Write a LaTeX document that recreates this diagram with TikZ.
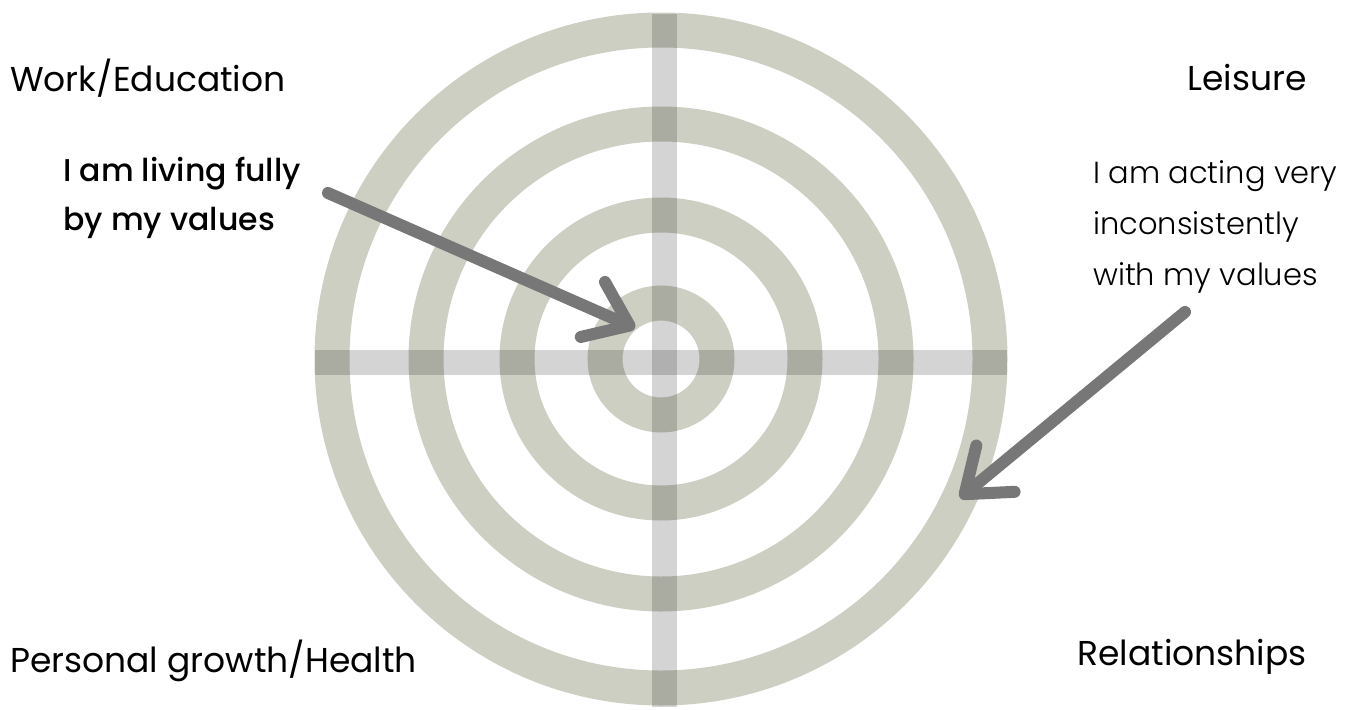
\documentclass[tikz,border=0pt]{standalone}
\usepackage{fontspec}
\setmainfont{Poppins}
\newfontfamily\lightfont{Poppins Light}
\newfontfamily\mediumfont{Poppins Medium}
\usepackage{xcolor}
\usetikzlibrary{arrows.meta}
\definecolor{ringgray}{HTML}{CDCFC3}
\definecolor{arrowgray}{HTML}{777777}

\begin{document}
\begin{tikzpicture}
   [x=1pt, y=-1pt,
   ring/.style={draw=ringgray, line width=35pt},
   bar/.style={draw=black, draw opacity=0.17, line width=25pt},
   pointer/.style={draw=arrowgray, line width=12pt, line cap=round, line join=round,
     -{Straight Barb[length=40pt, width=60pt, line cap=round, line join=round]}},
   heading/.style={inner sep=0pt, font=\fontsize{34.5}{40}\selectfont},
   remark/.style={inner sep=0pt, align=left, font=\mediumfont\fontsize{31.5}{49}\selectfont},
   lightremark/.style={inner sep=0pt, align=left, font=\lightfont\fontsize{30.5}{51}\selectfont},
   ]
 \useasboundingbox (0,0) rectangle (1356,709);
 \coordinate (ctr) at (661,359);
 \foreach \r in {56,144,235,329}
   \draw[ring] (ctr) circle[radius=\r pt];
 %\draw[bar] (664,14) -- (664,707);
 \coordinate (vtop) at (664,14);
 \coordinate (vbot) at (664,707);
 \coordinate (hleft) at (315,362.5);
 \coordinate (hright) at (1007,362.5);
 \draw[bar] (vtop) -- (vbot);
 \draw[bar] (hleft) -- (hright);

 \node at (10,92) [heading, anchor=base west] (work) {Work/Education};
 \node at (1307,90) [heading, anchor=base east] (leisure) {Leisure};
 \node at (10,672) [heading, anchor=base west] (growth) {Personal growth/Health};
 \node at (1307,665) [heading, anchor=base east] (relations) {Relationships};

 \node at (63,157) [remark, anchor=north west] (fully) {I am living fully\\by my values};
 \node at (1093,160) [lightremark, anchor=north west] (notfully) {I am acting very\\inconsistently\\with my values};

 \coordinate (fullytail) at (328,193);
 \coordinate (fullytip) at (635,328);
 \coordinate (nottail) at (1185,312);
 \coordinate (nottip) at (960,498);
 \draw[pointer] (fullytail) -- (fullytip);
 \draw[pointer] (nottail) -- (nottip);
\end{tikzpicture}
\end{document}
